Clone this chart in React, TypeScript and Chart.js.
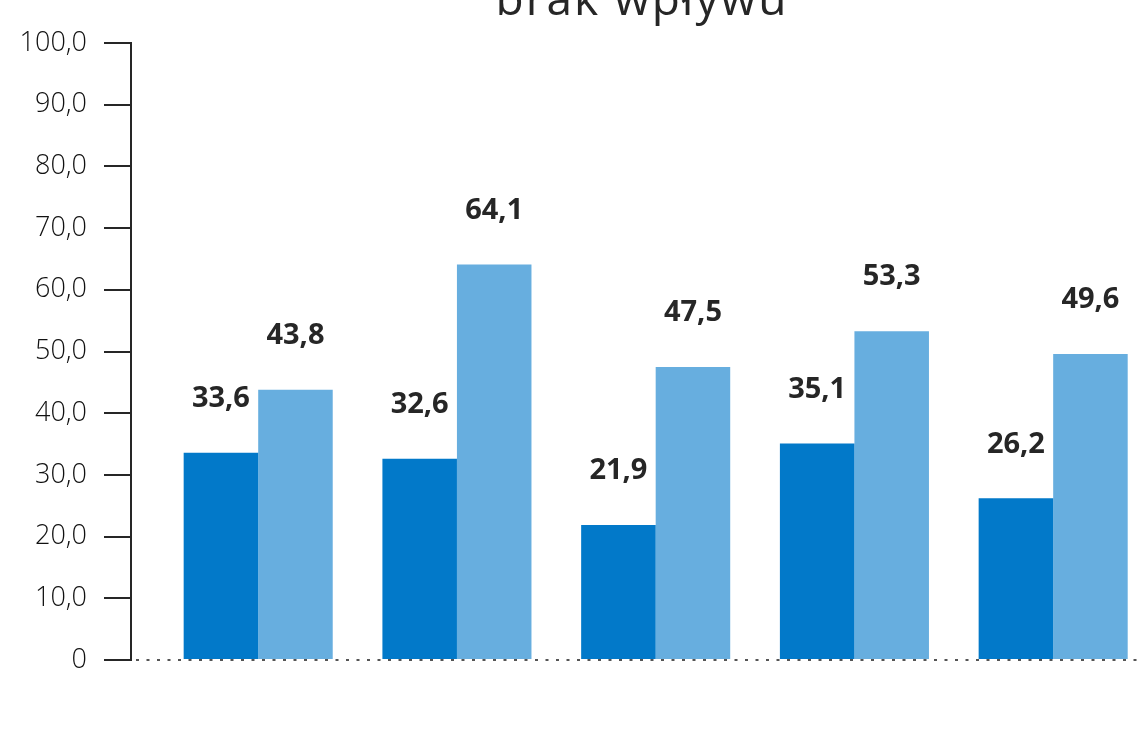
import React, { useEffect, useRef } from "react";
import { Chart, registerables } from "chart.js";

Chart.register(...registerables);

const TITLE = "brak wpływu";
const categories = ["1", "2", "3", "4", "5"];
const seriesA = [33.6, 32.6, 21.9, 35.1, 26.2];
const seriesB = [43.8, 64.1, 47.5, 53.3, 49.6];
const yTicks = [0, 10, 20, 30, 40, 50, 60, 70, 80, 90, 100];

const fmt = (v: number) => (v === 0 ? "0" : v.toFixed(1).replace(".", ","));

const labelPlugin = {
  id: "valueLabels",
  afterDatasetsDraw(chart: any) {
    const ctx = chart.ctx;
    const { left, right } = chart.chartArea;
    const y0 = chart.scales.y.getPixelForValue(0);
    ctx.save();
    ctx.strokeStyle = "#555555";
    ctx.lineWidth = 2;
    ctx.setLineDash([3, 7.5]);
    ctx.beginPath();
    ctx.moveTo(left + 5, y0);
    ctx.lineTo(right, y0);
    ctx.stroke();
    ctx.setLineDash([]);
    ctx.font = "700 29px 'Open Sans'";
    ctx.fillStyle = "#262626";
    ctx.textAlign = "center";
    ctx.textBaseline = "middle";
    chart.data.datasets.forEach((ds: any, i: number) => {
      const meta = chart.getDatasetMeta(i);
      meta.data.forEach((bar: any, j: number) => {
        ctx.fillText(fmt(ds.data[j].y), bar.x, bar.y - 54);
      });
    });
    ctx.restore();
  },
};

const titlePlugin = {
  id: "cutTitle",
  afterDraw(chart: any) {
    const ctx = chart.ctx;
    ctx.save();
    ctx.font = "400 46px 'Open Sans'";
    ctx.fillStyle = "#262626";
    ctx.textAlign = "center";
    ctx.textBaseline = "alphabetic";
    try {
      (ctx as any).letterSpacing = "2px";
    } catch (e) {}
    ctx.fillText(TITLE, 642, 15);
    ctx.restore();
  },
};

export default function App() {
  const ref = useRef<HTMLCanvasElement | null>(null);
  useEffect(() => {
    if (!ref.current) return;
    const chart = new Chart(ref.current, {
      type: "bar",
      data: {
        datasets: [
          {
            label: "A",
            data: categories.map((c, i) => ({ x: i + 1, y: seriesA[i] })),
            backgroundColor: "#0279C9",
            categoryPercentage: 0.75,
            barPercentage: 1,
          },
          {
            label: "B",
            data: categories.map((c, i) => ({ x: i + 1, y: seriesB[i] })),
            backgroundColor: "#67AEDF",
            categoryPercentage: 0.75,
            barPercentage: 1,
          },
        ],
      },
      options: {
        animation: false,
        responsive: true,
        maintainAspectRatio: false,
        layout: { padding: { top: 43, bottom: 95, left: 0, right: 0 } },
        plugins: { legend: { display: false }, tooltip: { enabled: false }, title: { display: false } },
        scales: {
          x: {
            type: "linear",
            offset: false,
            min: 0.36,
            max: 5.457,
            afterBuildTicks: (s: any) => {
              s.ticks = categories.map((c, i) => ({ value: i + 1 }));
            },
            ticks: { display: false },
            grid: { display: false, drawTicks: false, offset: false },
            border: { display: false },
            afterFit: (s: any) => {
              s.height = 0;
            },
          },
          y: {
            min: 0,
            max: 100,
            afterBuildTicks: (s: any) => {
              s.ticks = yTicks.map((v) => ({ value: v }));
            },
            ticks: {
              callback: (v: any) => fmt(Number(v)),
              color: "#111111",
              font: { family: "'Open Sans'", size: 27, weight: 300 },
              padding: 17,
            },
            grid: {
              drawOnChartArea: false,
              drawTicks: true,
              tickLength: 27,
              color: "#262626",
              lineWidth: 2,
            },
            border: { display: true, color: "#262626", width: 2 },
            afterFit: (s: any) => {
              s.width = 131;
            },
          },
        },
      },
      plugins: [labelPlugin, titlePlugin],
    });
    return () => chart.destroy();
  }, []);
  return (
    <div style={{ position: "fixed", left: 0, top: 0, width: 1144, height: 755, background: "#fff" }}>
      <canvas ref={ref} />
    </div>
  );
}
